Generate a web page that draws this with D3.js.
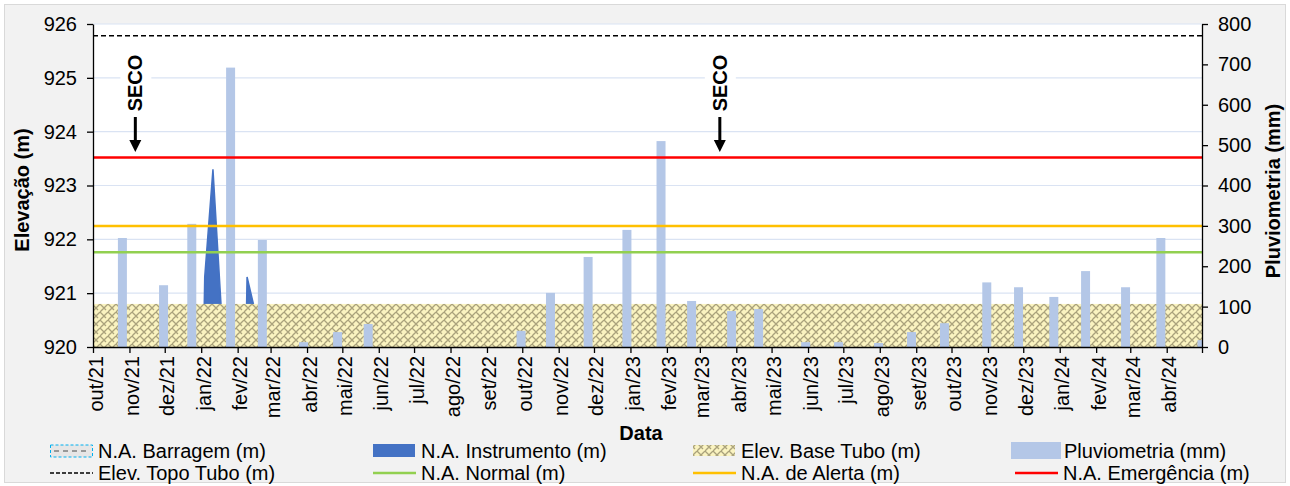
<!DOCTYPE html>
<html>
<head>
<meta charset="utf-8">
<script src="https://cdn.jsdelivr.net/npm/d3@7"></script>
<style>
  body { margin: 0; background: #fff; }
  svg { display: block; font-family: Arial, "Liberation Sans", sans-serif; }
</style>
</head>
<body>
<div id="chart"></div>
<script>
// pluviometria (mm) - data da leitura e valor
const chuvaDatas = ["2021-10-26","2021-11-30","2021-12-24","2022-01-26","2022-02-22","2022-03-29",
  "2022-04-27","2022-05-23","2022-09-30","2022-10-25","2022-11-26","2022-12-29","2023-01-27",
  "2023-02-22","2023-03-28","2023-04-20","2023-05-30","2023-06-27","2023-07-31","2023-08-28",
  "2023-09-25","2023-10-31","2023-11-27","2023-12-27","2024-01-23","2024-02-26","2024-03-27","2024-05-01"];
const chuvaMm = [270, 153, 305, 692, 265, 12, 37, 57, 40, 134, 223, 290, 510,
  114, 89, 94, 12, 12, 10, 37, 59, 160, 148, 124, 188, 148, 270, 17];

// N.A. Instrumento (m)
const instDatas = ["2021-10-01","2022-01-03","2022-01-04","2022-01-11","2022-01-20",
  "2022-02-08","2022-02-09","2022-02-23","2024-05-01"];
const instValores = [920, 920, 921.3, 923.3, 920, 920, 921.3, 920, 920];

// niveis de referencia (m)
const baseTubo = 920.8;
const topoTubo = 925.78;
const naNormal = 921.76;
const naAlerta = 922.25;
const naEmergencia = 923.52;

const secoDatas = ["2021-11-06", "2023-03-18"];

const mesesPt = ["jan","fev","mar","abr","mai","jun","jul","ago","set","out","nov","dez"];
const inicio = "2021-10-01", fim = "2024-05-01";
const yTicks = [920, 921, 922, 923, 924, 925, 926];
const yRTicks = [0, 100, 200, 300, 400, 500, 600, 700, 800];

const W = 1290, H = 486;
const L = 93, R = 1202, T = 24, B = 347;
const parse = d3.utcParse("%Y-%m-%d");

const svg = d3.select("#chart").append("svg")
    .attr("width", W).attr("height", H);

const defs = svg.append("defs");
defs.append("clipPath").attr("id", "plot")
  .append("rect").attr("x", L).attr("y", T).attr("width", R - L).attr("height", B - T);

// weave-ish pattern for base do tubo
const pat = defs.append("pattern").attr("id", "weave")
    .attr("patternUnits", "userSpaceOnUse").attr("width", 8).attr("height", 8);
pat.append("rect").attr("width", 8).attr("height", 8).attr("fill", "#faf3c0");
pat.append("path")
    .attr("d", "M0,4 L4,0 M4,8 L8,4 M4,0 L8,4 M0,4 L2,6 M6,6 L4,8")
    .attr("stroke", "#aaa27c").attr("stroke-width", 1.3).attr("fill", "none");

const x = d3.scaleUtc().domain([parse(inicio), parse(fim)]).range([L, R]);
const yL = d3.scaleLinear().domain([920, 926]).range([B, T]);
const yR = d3.scaleLinear().domain([0, 800]).range([B, T]);

// fundo
svg.append("rect").attr("x", 4.5).attr("y", 4.5).attr("width", W - 9).attr("height", H - 8)
    .attr("fill", "#f2f2f2").attr("stroke", "#d9d9d9");
svg.append("rect").attr("x", L).attr("y", T).attr("width", R - L).attr("height", B - T)
    .attr("fill", "#fff");

// grade
svg.append("g").selectAll("line").data(yTicks.slice(1)).join("line")
    .attr("x1", L).attr("x2", R)
    .attr("y1", d => yL(d)).attr("y2", d => yL(d))
    .attr("stroke", "#dae3f3").attr("stroke-width", 1.2);

const plot = svg.append("g").attr("clip-path", "url(#plot)");

// N.A. Instrumento
const inst = instDatas.map((d, i) => ({ date: parse(d), v: instValores[i] }));
plot.append("path").datum(inst)
    .attr("d", d3.area().x(d => x(d.date)).y0(yL(920)).y1(d => yL(d.v)))
    .attr("fill", "#4472c4").attr("stroke", "#4472c4").attr("stroke-width", 1.5);

// Elev. Base Tubo
plot.append("rect")
    .attr("x", L).attr("width", R - L)
    .attr("y", yL(baseTubo)).attr("height", yL(920) - yL(baseTubo))
    .attr("fill", "url(#weave)");

// Pluviometria
const chuva = chuvaDatas.map((d, i) => ({ date: parse(d), v: chuvaMm[i] }));
plot.selectAll("rect.chuva").data(chuva).join("rect")
    .attr("class", "chuva")
    .attr("x", d => x(d.date) - 4.5).attr("width", 9)
    .attr("y", d => yR(d.v)).attr("height", d => yR(0) - yR(d.v))
    .attr("fill", "#b4c7e7");

// niveis
const niveis = [
  { v: naNormal, c: "#92d050", dash: null, w: 2.5 },
  { v: naAlerta, c: "#ffc000", dash: null, w: 2.5 },
  { v: naEmergencia, c: "#ff0000", dash: null, w: 2.5 },
  { v: topoTubo, c: "#000", dash: "5,3", w: 1.5 }
];
plot.selectAll("line.nivel").data(niveis).join("line")
    .attr("class", "nivel")
    .attr("x1", L).attr("x2", R)
    .attr("y1", d => yL(d.v)).attr("y2", d => yL(d.v))
    .attr("stroke", d => d.c).attr("stroke-width", d => d.w)
    .attr("stroke-dasharray", d => d.dash);

// eixos
const yAxisL = svg.append("g").attr("transform", `translate(${L},0)`)
    .call(d3.axisLeft(yL).tickValues(yTicks).tickFormat(d3.format("d"))
      .tickSize(6).tickSizeOuter(0).tickPadding(10));
const yAxisR = svg.append("g").attr("transform", `translate(${R},0)`)
    .call(d3.axisRight(yR).tickValues(yRTicks).tickFormat(d3.format("d"))
      .tickSize(6).tickSizeOuter(0).tickPadding(10));
[yAxisL, yAxisR].forEach(g => {
  g.selectAll("text").attr("font-size", 20).attr("fill", "#000").attr("font-family", null);
  g.selectAll("line, path").attr("stroke", "#000").attr("stroke-width", 1.3);
});

const meses = d3.utcMonth.range(parse(inicio), d3.utcDay.offset(parse(fim), 1));
const xAxis = svg.append("g").attr("transform", `translate(0,${B})`)
    .call(d3.axisBottom(x).tickValues(meses).tickSize(6).tickSizeOuter(0)
      .tickFormat(d => +d === +parse(fim) ? "" :
        mesesPt[d.getUTCMonth()] + "/" + String(d.getUTCFullYear()).slice(2)));
xAxis.selectAll("line, path").attr("stroke", "#000").attr("stroke-width", 1.3);
xAxis.selectAll("text")
    .attr("font-size", 20).attr("fill", "#000")
    .attr("transform", "rotate(-90)")
    .attr("text-anchor", "end")
    .attr("x", -9).attr("y", 0).attr("dy", "0.45em");

// titulos
svg.append("text").attr("transform", "translate(29,190) rotate(-90)")
    .attr("text-anchor", "middle").attr("font-size", 20).attr("font-weight", "bold")
    .text("Elevação (m)");
svg.append("text").attr("transform", "translate(1280,191) rotate(-90)")
    .attr("text-anchor", "middle").attr("font-size", 20).attr("font-weight", "bold")
    .text("Pluviometria (mm)");
svg.append("text").attr("x", 641).attr("y", 440)
    .attr("text-anchor", "middle").attr("font-size", 20).attr("font-weight", "bold")
    .text("Data");

// SECO
const seco = svg.append("g").selectAll("g").data(secoDatas.map(parse)).join("g")
    .attr("transform", d => `translate(${x(d)},0)`);
seco.append("rect").attr("x", -15).attr("y", 52).attr("width", 31).attr("height", 60).attr("fill", "#fff");
seco.append("text").attr("transform", "translate(7,83) rotate(-90)")
    .attr("text-anchor", "middle").attr("font-size", 20).attr("font-weight", "bold")
    .text("SECO");
seco.append("line").attr("x1", 0).attr("x2", 0).attr("y1", 117).attr("y2", 142)
    .attr("stroke", "#000").attr("stroke-width", 3);
seco.append("path").attr("d", "M-6,140 L6,140 L0,152 Z").attr("fill", "#000");

// legenda
const leg = svg.append("g").attr("font-size", 20);
const itens = [
  { t: "N.A. Barragem (m)", x: 50, y: 451, tipo: "barragem" },
  { t: "N.A. Instrumento (m)", x: 373, y: 451, tipo: "inst" },
  { t: "Elev. Base Tubo (m)", x: 693, y: 451, tipo: "base" },
  { t: "Pluviometria (mm)", x: 1011, y: 451, tipo: "chuva" },
  { t: "Elev. Topo Tubo (m)", x: 50, y: 473, tipo: "linha", c: "#000", dash: "4,2" },
  { t: "N.A. Normal (m)", x: 373, y: 473, tipo: "linha", c: "#92d050" },
  { t: "N.A. de Alerta (m)", x: 693, y: 473, tipo: "linha", c: "#ffc000" },
  { t: "N.A. Emergência (m)", x: 1015, y: 473, tipo: "linha", c: "#ff0000" }
];
itens.forEach(it => {
  const g = leg.append("g").attr("transform", `translate(${it.x},${it.y})`);
  let tx = 48;
  if (it.tipo === "barragem") {
    g.append("rect").attr("x", 0.5).attr("y", -6).attr("width", 42).attr("height", 12)
      .attr("fill", "#e7e6e6").attr("stroke", "#00b0f0").attr("stroke-dasharray", "3,2");
    g.append("line").attr("x1", 4).attr("x2", 39).attr("y1", 0).attr("y2", 0)
      .attr("stroke", "#7f7f7f").attr("stroke-dasharray", "5,4").attr("stroke-width", 1.5);
  } else if (it.tipo === "inst") {
    g.append("rect").attr("x", 0).attr("y", -7).attr("width", 42).attr("height", 13).attr("fill", "#4472c4");
  } else if (it.tipo === "base") {
    g.append("rect").attr("x", 0).attr("y", -6).attr("width", 42).attr("height", 11).attr("fill", "url(#weave)");
  } else if (it.tipo === "chuva") {
    g.append("rect").attr("x", 0).attr("y", -9).attr("width", 50).attr("height", 17).attr("fill", "#b4c7e7");
    tx = 53;
  } else {
    g.append("line").attr("x1", 0).attr("x2", 43).attr("y1", 0).attr("y2", 0)
      .attr("stroke", it.c).attr("stroke-width", it.dash ? 1.5 : 2.5)
      .attr("stroke-dasharray", it.dash || null);
  }
  g.append("text").attr("x", tx).attr("y", 0).attr("dy", "0.35em").text(it.t);
});
</script>
</body>
</html>
